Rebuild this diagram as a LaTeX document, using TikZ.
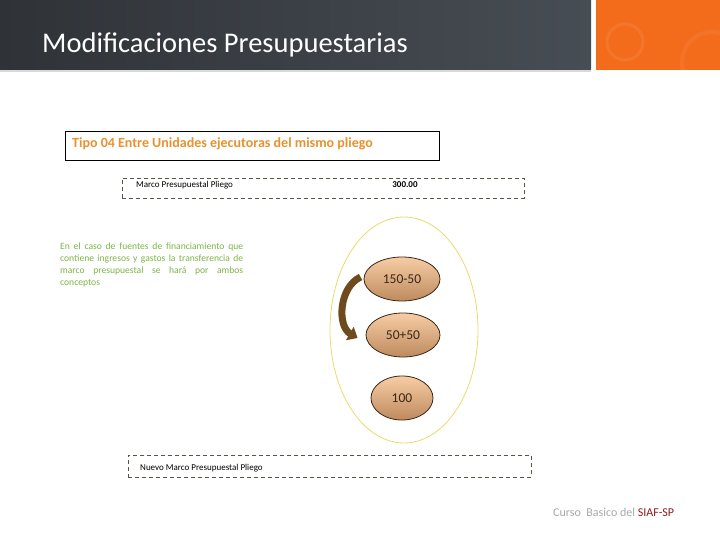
\documentclass[tikz,border=0pt]{standalone}
\usepackage{fontspec}
\setmainfont{Carlito}
\usetikzlibrary{shapes.geometric,arrows.meta}
\definecolor{bandleft}{HTML}{2F3338}
\definecolor{bandright}{HTML}{474D54}
\definecolor{bandorange}{HTML}{F36C1C}
\definecolor{tipoorange}{HTML}{E8912D}
\definecolor{boxline}{HTML}{5E5246}
\definecolor{notegreen}{HTML}{7DB346}
\definecolor{ringyellow}{HTML}{E6DC6A}
\definecolor{ovaltop}{HTML}{F7CDA5}
\definecolor{ovalbot}{HTML}{BE8A5E}
\definecolor{ovalline}{HTML}{3A2816}
\definecolor{flecha}{HTML}{6E4B1C}
\definecolor{footgray}{HTML}{A8A8A8}
\definecolor{footred}{HTML}{8E1A1F}
\begin{document}
\begin{tikzpicture}
    [x=1pt,y=-1pt,
     dashbox/.style={draw=boxline,line width=0.8pt,dash pattern=on 4pt off 3pt,
       minimum height=20pt,anchor=north west,inner sep=0pt},
     monto/.style={ellipse,draw=ovalline,line width=0.8pt,top color=ovaltop,
       bottom color=ovalbot,minimum height=44pt,inner sep=0pt,
       text=ovalline,font=\fontsize{13.5}{15}\selectfont},
     small/.style={font=\fontsize{9}{11}\selectfont,inner sep=0pt}]
    \useasboundingbox (0,0) rectangle (720,540);
    % header band
    \shade[left color=bandleft,right color=bandright] (0,0) rectangle (591,70);
    \fill[bandorange] (596,0) rectangle (720,70);
    \draw[white,opacity=0.07,line width=3pt] (625,42) circle (18);
    \draw[white,opacity=0.06,line width=4pt] (712,62) circle (30);
    \fill[black!15] (0,70) rectangle (591,72);
    \node[anchor=base west,text=white,inner sep=0pt,
      font=\fontsize{28.5}{32}\selectfont] (titulo) at (42,53) {Modificaciones Presupuestarias};
    % tipo
    \node[draw=black,line width=1pt,minimum width=374pt,minimum height=29pt,
      anchor=north west,inner sep=0pt] (tipo) at (65,131) {};
    \node[anchor=west,text=tipoorange,inner sep=0pt,
      font=\bfseries\fontsize{14}{16}\selectfont] (tipotxt) at ([xshift=7pt,yshift=2pt]tipo.west)
      {Tipo 04 Entre Unidades ejecutoras del mismo pliego};
    % marco
    \node[dashbox,minimum width=402pt] (marco) at (122,178) {};
    \node[small,anchor=west] (marcotxt) at ([xshift=14pt,yshift=3pt]marco.west)
      {Marco Presupuestal Pliego};
    \node[small,font=\bfseries\fontsize{9}{10}\selectfont] (total) at (405,185) {300.00};
    % nota
    \node[anchor=north west,text=notegreen,text width=183pt,align=justify,inner sep=0pt,
      font=\fontsize{9.6}{11.8}\selectfont] (nota) at (60,243)
      {En el caso de fuentes de financiamiento que\linebreak
       contiene ingresos y gastos la transferencia de\linebreak
       marco presupuestal se hará por ambos\linebreak conceptos};
    % ovals
    \node[ellipse,draw=ringyellow,line width=0.8pt,minimum width=148pt,
      minimum height=226pt] (grupo) at (404,330) {};
    \node[monto,minimum width=76pt] (resta) at (402,279) {150-50};
    \node[monto,minimum width=74pt] (suma) at (403,335) {50+50};
    \node[monto,minimum width=62pt] (cien) at (402,398) {100};
    \draw[flecha,line width=7pt,-{Triangle[length=9pt,width=15pt]}]
      ([xshift=-3pt,yshift=2pt]resta.west) to[out=205,in=150] ([xshift=-8pt,yshift=-3pt]suma.west);
    % nuevo marco
    \node[dashbox,minimum width=403pt,minimum height=22pt] (nuevo) at (128,455) {};
    \node[small,anchor=west] (nuevotxt) at ([xshift=12pt,yshift=-2pt]nuevo.west)
      {Nuevo Marco Presupuestal Pliego};
    % footer
    \node[anchor=base west,inner sep=0pt,font=\fontsize{12}{14}\selectfont] (pie) at (553,516)
      {\textcolor{footgray}{Curso\ \ Basico del }\textcolor{footred}{SIAF-SP}};
\end{tikzpicture}
\end{document}
